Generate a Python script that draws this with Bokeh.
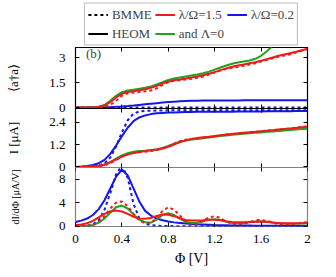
from bokeh.plotting import figure
from bokeh.models import (Range1d, LinearAxis, FixedTicker, NumeralTickFormatter,
                          CustomJSTickFormatter, Legend, LegendItem, Label)
from bokeh.layouts import column
from bokeh.embed import file_html
from bokeh.resources import INLINE

# ---------------- data ----------------
phi = [0.0, 0.05, 0.1, 0.15, 0.2, 0.25, 0.3, 0.35, 0.4, 0.45, 0.5, 0.55, 0.6, 0.65,
       0.7, 0.75, 0.8, 0.85, 0.9, 0.95, 1.0, 1.05, 1.1, 1.15, 1.2, 1.25, 1.3, 1.35,
       1.4, 1.45, 1.5, 1.55, 1.6, 1.65, 1.7, 1.75, 1.8, 1.85, 1.9, 1.95, 2.0]

# <a^dagger a>
n_heom_15 = [0, 0, 0, 0.01, 0.04, 0.12, 0.32, 0.6, 0.82, 0.93, 0.98, 1.04, 1.1, 1.18,
             1.3, 1.44, 1.55, 1.63, 1.68, 1.74, 1.8, 1.86, 1.93, 2.02, 2.12, 2.24, 2.35,
             2.44, 2.52, 2.58, 2.65, 2.72, 2.8, 2.9, 3.0, 3.1, 3.18, 3.26, 3.34, 3.43, 3.52]
n_bmme_15 = [0, 0, 0, 0, 0.01, 0.05, 0.15, 0.4, 0.7, 0.85, 0.9, 0.93, 0.97, 1.02, 1.15,
             1.35, 1.52, 1.6, 1.64, 1.68, 1.72, 1.78, 1.86, 1.98, 2.1, 2.22, 2.32, 2.38,
             2.43, 2.5, 2.58, 2.66, 2.76, 2.86, 2.96, 3.05, 3.12, 3.2, 3.3, 3.4, 3.5]
n_heom_0 = [0, 0, 0, 0.01, 0.05, 0.15, 0.4, 0.7, 0.92, 1.02, 1.07, 1.12, 1.18, 1.26, 1.38,
            1.52, 1.65, 1.74, 1.8, 1.86, 1.92, 1.98, 2.06, 2.15, 2.27, 2.4, 2.52, 2.62,
            2.7, 2.76, 2.82, 2.92, 3.1, 3.38, 3.7, 3.95, 4.1, 4.2, 4.3, 4.35, 4.4]
n_heom_02 = [0, 0, 0.005, 0.01, 0.015, 0.02, 0.03, 0.045, 0.065, 0.09, 0.12, 0.155, 0.19,
             0.225, 0.26, 0.295, 0.325, 0.35, 0.37, 0.385, 0.4, 0.41, 0.415, 0.42, 0.42,
             0.42, 0.425, 0.425, 0.425, 0.43, 0.43, 0.43, 0.43, 0.43, 0.43, 0.43, 0.43,
             0.43, 0.43, 0.43, 0.43]
n_bmme_02 = [0, 0, 0, 0, 0, 0, 0, 0, 0, 0, 0, 0, 0, 0, 0, 0, 0, 0, 0, 0, 0,
             0, 0, 0, 0, 0, 0, 0, 0, 0, 0, 0, 0, 0, 0, 0, 0, 0, 0, 0, 0]

# current I [muA]
i_heom_02 = [0, 0.02, 0.05, 0.1, 0.2, 0.38, 0.7, 1.15, 1.65, 2.1, 2.45, 2.65, 2.76, 2.83,
             2.87, 2.89, 2.91, 2.92, 2.93, 2.94, 2.94, 2.95, 2.95, 2.95, 2.96, 2.96, 2.96,
             2.96, 2.97, 2.97, 2.97, 2.97, 2.97, 2.98, 2.98, 2.98, 2.98, 2.98, 2.99, 2.99, 2.99]
i_bmme_02 = [0, 0, 0.01, 0.02, 0.06, 0.2, 0.5, 1.1, 1.85, 2.5, 2.85, 2.97, 3.0, 3.01, 3.02,
             3.02, 3.03, 3.03, 3.03, 3.03, 3.04, 3.04, 3.04, 3.04, 3.04, 3.04, 3.04, 3.04,
             3.04, 3.04, 3.04, 3.04, 3.04, 3.04, 3.04, 3.04, 3.04, 3.04, 3.04, 3.04, 3.04]
i_heom_15 = [0, 0, 0.01, 0.03, 0.06, 0.13, 0.25, 0.4, 0.55, 0.66, 0.74, 0.8, 0.85, 0.89,
             0.93, 0.99, 1.08, 1.2, 1.33, 1.43, 1.5, 1.55, 1.59, 1.62, 1.66, 1.7, 1.74,
             1.77, 1.8, 1.83, 1.86, 1.88, 1.91, 1.94, 1.97, 2.0, 2.03, 2.06, 2.09, 2.12, 2.15]
i_bmme_15 = [0, 0, 0, 0.01, 0.03, 0.08, 0.2, 0.38, 0.56, 0.68, 0.75, 0.79, 0.82, 0.85, 0.9,
             0.98, 1.1, 1.25, 1.38, 1.46, 1.5, 1.53, 1.56, 1.6, 1.65, 1.7, 1.74, 1.77,
             1.79, 1.81, 1.84, 1.87, 1.91, 1.95, 1.98, 2.0, 2.03, 2.06, 2.1, 2.14, 2.17]
i_heom_0 = [0, 0, 0, 0.02, 0.05, 0.12, 0.26, 0.44, 0.62, 0.74, 0.81, 0.85, 0.87, 0.9, 0.94,
            1.02, 1.12, 1.24, 1.35, 1.42, 1.47, 1.5, 1.53, 1.57, 1.61, 1.65, 1.69, 1.72,
            1.75, 1.78, 1.8, 1.83, 1.85, 1.88, 1.9, 1.93, 1.95, 1.98, 2.0, 2.03, 2.05]

# differential conductance dI/dPhi [muA/V]
d_heom_02 = [0.7, 0.95, 1.3, 1.9, 2.9, 4.4, 6.4, 8.4, 9.6, 8.6, 6.4, 4.2, 2.6, 1.8, 1.3,
             1.0, 0.8, 0.65, 0.55, 0.45, 0.38, 0.32, 0.28, 0.24, 0.2, 0.18, 0.16, 0.14,
             0.12, 0.11, 0.1, 0.09, 0.08, 0.08, 0.07, 0.07, 0.06, 0.06, 0.05, 0.05, 0.05]
d_bmme_02 = [0, 0.02, 0.08, 0.3, 1.0, 2.8, 5.6, 8.8, 10.3, 8.2, 3.8, 1.3, 0.45, 0.18, 0.08,
             0.04, 0.02, 0.01, 0, 0, 0, 0, 0, 0, 0, 0, 0, 0, 0, 0, 0, 0, 0, 0, 0, 0, 0,
             0, 0, 0, 0]
d_heom_15 = [0.2, 0.3, 0.5, 0.9, 1.5, 2.1, 2.5, 2.65, 2.5, 2.1, 1.6, 1.3, 1.25, 1.4, 1.75,
             2.0, 1.95, 1.7, 1.35, 1.05, 0.95, 0.95, 1.0, 1.1, 1.1, 1.0, 0.85, 0.72, 0.65,
             0.65, 0.7, 0.75, 0.78, 0.75, 0.65, 0.55, 0.5, 0.48, 0.5, 0.52, 0.55]
d_heom_0 = [0, 0.02, 0.05, 0.2, 0.6, 1.3, 2.3, 3.2, 3.5, 3.0, 2.0, 1.1, 0.65, 0.6, 1.1, 1.9,
            2.2, 1.9, 1.3, 0.75, 0.55, 0.6, 0.85, 1.1, 1.2, 1.05, 0.75, 0.55, 0.5, 0.55,
            0.65, 0.75, 0.8, 0.72, 0.6, 0.5, 0.45, 0.42, 0.42, 0.45, 0.48]
d_bmme_15 = [0, 0.02, 0.05, 0.2, 0.7, 1.7, 3.0, 4.0, 4.2, 3.4, 2.1, 1.0, 0.5, 0.6, 1.3, 2.6,
             3.2, 2.8, 1.8, 0.8, 0.35, 0.4, 0.9, 1.5, 1.7, 1.4, 0.8, 0.4, 0.3, 0.4, 0.7,
             1.0, 1.05, 0.9, 0.6, 0.35, 0.3, 0.35, 0.45, 0.6, 0.7]

x_ticks = [0, 0.4, 0.8, 1.2, 1.6, 2]
n_ticks = [0, 1.5, 3]
i_ticks = [0, 1.2, 2.4]
d_ticks = [0, 4, 8]

legend_labels = ["BMME", "λ/Ω=1.5", "λ/Ω=0.2", "HEOM", "and Λ=0"]

# ---------------- styling ----------------
FONT = "Liberation Serif"
RED, BLUE, GREEN = "#f01a1a", "#1515ee", "#1ea31e"
DASH = "3 3"
LW = 2
W = 330
LEFT = 75
FRAME_W = 232
OVER = 8          # each lower panel overlaps the band below the panel above
X0, X1 = 0, 2


def base_fig(frame_h, yr, bottom, outline="black", overlap=False):
    p = figure(width=W, height=frame_h + bottom, x_range=Range1d(X0, X1),
               y_range=Range1d(*yr), output_backend="svg", toolbar_location=None,
               x_axis_location=None, y_axis_location=None,
               min_border_left=LEFT, min_border_right=W - LEFT - FRAME_W,
               min_border_top=0, min_border_bottom=bottom)
    p.grid.visible = False
    p.outline_line_color = outline
    p.outline_line_width = 1.2
    p.background_fill_color = "white"
    p.border_fill_color = "white"
    if overlap:
        p.margin = (-OVER, 0, 0, 0)
        p.border_fill_alpha = 0.0
    return p


def add_axis(p, side, ticks, labels=False, standoff=10, title=None,
             title_standoff=0, title_size="13px", fixed=None):
    ax = LinearAxis(ticker=FixedTicker(ticks=ticks))
    ax.axis_line_color = None
    ax.major_tick_in = 4
    ax.major_tick_out = 0
    ax.major_tick_line_color = "black"
    ax.major_tick_line_width = 1
    ax.minor_tick_line_color = None
    ax.major_label_text_font = FONT
    ax.major_label_text_color = "black"
    if labels:
        ax.formatter = NumeralTickFormatter(format="0.[0]")
        ax.major_label_text_font_size = "13px"
        ax.major_label_standoff = standoff
    else:
        ax.formatter = CustomJSTickFormatter(code="return ''")
        ax.major_label_text_font_size = "0px"
        ax.major_label_standoff = 0
    if fixed is not None:
        ax.fixed_location = fixed
    if title:
        ax.axis_label = title
        ax.axis_label_text_font = FONT
        ax.axis_label_text_font_size = title_size
        ax.axis_label_text_font_style = "normal"
        ax.axis_label_text_color = "black"
        ax.axis_label_standoff = title_standoff
    p.add_layout(ax, side)
    return ax


def frame_ticks(p, yr, yticks, bottom=True):
    add_axis(p, "above", x_ticks, fixed=yr[1])
    if bottom:
        add_axis(p, "below", x_ticks, fixed=yr[0])
    add_axis(p, "right", yticks, fixed=X1)


# ---------------- legend strip ----------------
p0 = figure(width=W, height=47, x_range=Range1d(0, 1), y_range=Range1d(0, 1),
            output_backend="svg", toolbar_location=None,
            x_axis_location=None, y_axis_location=None,
            min_border_left=32, min_border_right=0, min_border_top=0, min_border_bottom=0)
p0.grid.visible = False
p0.outline_line_color = None
nan = float("nan")
l_dash = p0.line([nan], [nan], line_color="black", line_width=LW, line_dash=DASH)
l_solid = p0.line([nan], [nan], line_color="black", line_width=LW)
l_red = p0.line([nan], [nan], line_color=RED, line_width=LW)
l_blue = p0.line([nan], [nan], line_color=BLUE, line_width=LW)
l_green = p0.line([nan], [nan], line_color=GREEN, line_width=LW)
legend = Legend(
    items=[LegendItem(label=legend_labels[0], renderers=[l_dash]),
           LegendItem(label=legend_labels[1], renderers=[l_red]),
           LegendItem(label=legend_labels[2], renderers=[l_blue]),
           LegendItem(label=legend_labels[3], renderers=[l_solid]),
           LegendItem(label=legend_labels[4], renderers=[l_green])],
    orientation="horizontal", ncols=3, location="center",
    label_text_font=FONT, label_text_font_size="13px",
    glyph_width=20, glyph_height=14, label_height=14, label_standoff=4,
    spacing=3, padding=3, margin=0,
    border_line_color="#777777", border_line_width=1.5,
    background_fill_color="white", background_fill_alpha=1.0)
p0.add_layout(legend, "center")

# ---------------- panel 1: <a^dagger a> ----------------
yr1 = (-0.06, 3.6)
p1 = base_fig(61, yr1, OVER)
frame_ticks(p1, yr1, n_ticks)
add_axis(p1, "left", n_ticks, labels=True, title="⟨a†a⟩", title_standoff=25)

p1.line(phi, n_bmme_02, line_color=BLUE, line_width=LW, line_dash=DASH)
p1.line(phi, n_heom_02, line_color=BLUE, line_width=LW)
p1.line(phi, n_heom_0, line_color=GREEN, line_width=LW)
p1.line(phi, n_heom_15, line_color=RED, line_width=LW)
p1.line(phi, n_bmme_15, line_color=RED, line_width=LW, line_dash=DASH)
p1.add_layout(Label(x=0.09, y=3.22, text="(b)", text_font=FONT,
                    text_font_size="13px", text_baseline="middle"))

# ---------------- panel 2: current ----------------
yr2 = (-0.03, 3.13)
p2 = base_fig(59, yr2, OVER, overlap=True)
frame_ticks(p2, yr2, i_ticks)
add_axis(p2, "left", i_ticks, labels=True, title="I [μA]", title_standoff=25)

p2.line(phi, i_heom_02, line_color=BLUE, line_width=LW)
p2.line(phi, i_bmme_02, line_color=BLUE, line_width=LW, line_dash=DASH)
p2.line(phi, i_heom_0, line_color=GREEN, line_width=LW)
p2.line(phi, i_heom_15, line_color=RED, line_width=LW)
p2.line(phi, i_bmme_15, line_color=RED, line_width=LW, line_dash=DASH)

# ---------------- panel 3: dI/dPhi ----------------
yr3 = (-0.05, 9.95)
p3 = base_fig(59, yr3, 49, outline="#808080", overlap=True)
frame_ticks(p3, yr3, d_ticks, bottom=False)
add_axis(p3, "below", x_ticks, labels=True, standoff=8, title="Φ [V]",
         title_standoff=5, title_size="14px")
add_axis(p3, "left", d_ticks, labels=True, title="dI/dΦ [μA/V]",
         title_standoff=35, title_size="10px")

p3.line(phi, d_heom_02, line_color=BLUE, line_width=LW)
p3.line(phi, d_bmme_02, line_color=BLUE, line_width=LW, line_dash=DASH)
p3.line(phi, d_heom_0, line_color=GREEN, line_width=LW)
p3.line(phi, d_bmme_15, line_color=RED, line_width=LW, line_dash=DASH)
p3.line(phi, d_heom_15, line_color=RED, line_width=LW)

layout = column(p0, p1, p2, p3, spacing=0)

with open("out.html", "w") as f:
    f.write(file_html(layout, INLINE))
